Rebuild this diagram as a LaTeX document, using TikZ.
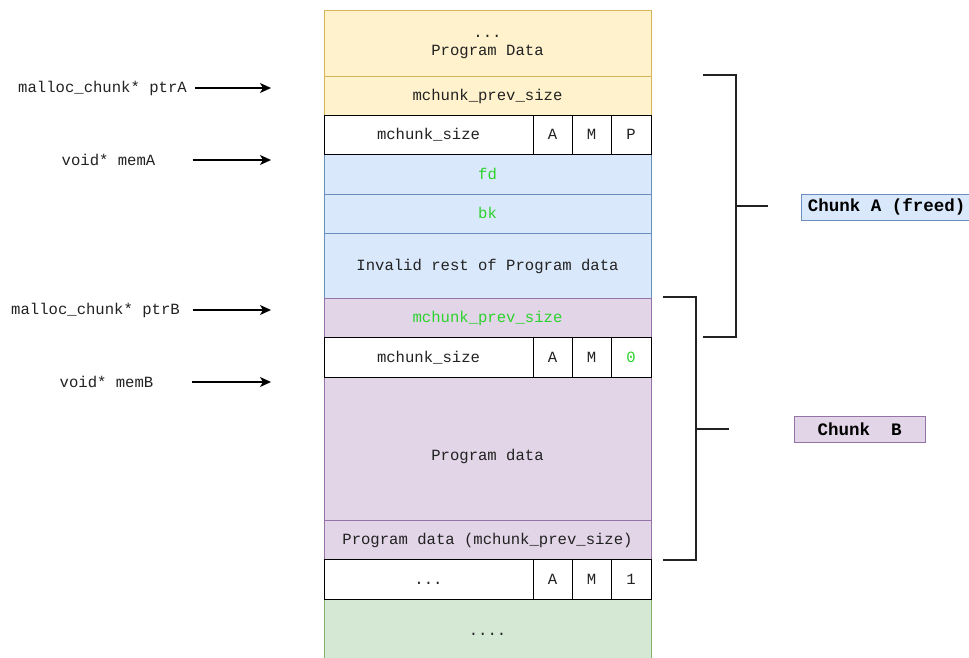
\documentclass[tikz,border=0pt]{standalone}
\usepackage{fontspec}
\setmonofont{Liberation Mono}
\usetikzlibrary{arrows.meta}
\definecolor{yelF}{HTML}{FFF2CC}
\definecolor{yelD}{HTML}{D6B656}
\definecolor{bluF}{HTML}{DAE8FC}
\definecolor{bluD}{HTML}{6C8EBF}
\definecolor{purF}{HTML}{E1D5E7}
\definecolor{purD}{HTML}{9673A6}
\definecolor{grnF}{HTML}{D5E8D4}
\definecolor{grnD}{HTML}{82B366}
\definecolor{txt}{HTML}{222222}
\definecolor{lime}{HTML}{2ED22E}
\tikzset{
  cell/.style={rectangle, draw, inner sep=0pt, text=txt, line width=0.9pt,
    text height=12pt, text depth=2pt,
    font=\ttfamily\fontsize{15.6}{18}\selectfont},
  yel/.style={cell, fill=yelF, draw=yelD},
  blu/.style={cell, fill=bluF, draw=bluD},
  pur/.style={cell, fill=purF, draw=purD},
  grn/.style={cell, fill=grnF, draw=grnD},
  wht/.style={cell, fill=white, draw=black},
  plain/.style={inner sep=0pt, text=txt, font=\ttfamily\fontsize{15.6}{18}\selectfont},
  ptrlabel/.style={inner sep=4pt, text=txt, font=\ttfamily\fontsize{15.6}{18}\selectfont},
  ptrarrow/.style={draw=black, line width=1.1pt, -{Stealth[length=11pt,width=10pt,inset=3pt]}},
  bracket/.style={draw=txt, line width=2pt},
  chunklabel/.style={rectangle, inner sep=0pt, minimum height=26pt, text=black, line width=0.9pt,
    font=\ttfamily\bfseries\fontsize{17.5}{20}\selectfont},
}
\begin{document}
\begin{tikzpicture}[x=1pt,y=-1pt]
\useasboundingbox (0,0) rectangle (969,658);
% column rows
\node[yel, minimum width=327pt, minimum height=66pt] (pd) at (487.5,43) {};
\node[plain, anchor=base] (pdDots) at (487.5,37.5) {...};
\node[plain, anchor=base] (pdText) at (487.5,55.5) {Program Data};
\node[yel, minimum width=327pt, minimum height=39pt] (prevA) at (487.5,95.5) {mchunk\_prev\_size};
\node[blu, minimum width=327pt, minimum height=40pt, text=lime] (fd) at (487.5,174) {fd};
\node[blu, minimum width=327pt, minimum height=39pt, text=lime] (bk) at (487.5,213.5) {bk};
\node[blu, minimum width=327pt, minimum height=65pt] (inv) at (487.5,265.5) {Invalid rest of Program data};
\node[pur, minimum width=327pt, minimum height=39pt, text=lime] (prevB) at (487.5,317.5) {mchunk\_prev\_size};
\node[pur, minimum width=327pt, minimum height=143pt, text height=25pt] (pdB) at (487.5,448.5) {Program data};
\node[pur, minimum width=327pt, minimum height=39pt] (pdprev) at (487.5,539.5) {Program data (mchunk\_prev\_size)};
\node[grn, minimum width=327pt, minimum height=62pt] (tail) at (487.5,630) {....};
% size rows
\node[wht, minimum width=209pt, minimum height=39pt] (sizeA) at (428.5,134.5) {mchunk\_size};
\node[wht, minimum width=39pt, minimum height=39pt] (aA) at (552.5,134.5) {A};
\node[wht, minimum width=39pt, minimum height=39pt] (mA) at (591.5,134.5) {M};
\node[wht, minimum width=40pt, minimum height=39pt] (pA) at (631,134.5) {P};
\node[wht, minimum width=209pt, minimum height=40pt] (sizeB) at (428.5,357) {mchunk\_size};
\node[wht, minimum width=39pt, minimum height=40pt] (aB) at (552.5,357) {A};
\node[wht, minimum width=39pt, minimum height=40pt] (mB) at (591.5,357) {M};
\node[wht, minimum width=40pt, minimum height=40pt, text=lime] (pB) at (631,357) {0};
\node[wht, minimum width=209pt, minimum height=40pt] (sizeC) at (428.5,579) {...};
\node[wht, minimum width=39pt, minimum height=40pt] (aC) at (552.5,579) {A};
\node[wht, minimum width=39pt, minimum height=40pt] (mC) at (591.5,579) {M};
\node[wht, minimum width=40pt, minimum height=40pt] (pC) at (631,579) {1};
% pointer labels
\node[ptrlabel] (ptrA) at (102.5,88) {malloc\_chunk* ptrA};
\node[ptrlabel] (memA) at (108.5,160) {void* memA};
\node[ptrlabel] (ptrB) at (95.5,310) {malloc\_chunk* ptrB};
\node[ptrlabel] (memB) at (106.5,382) {void* memB};
\coordinate (ptrAend) at (271,88);
\coordinate (memAend) at (271,160);
\coordinate (ptrBend) at (271,310);
\coordinate (memBend) at (271,382);
\draw[ptrarrow] (ptrA.east) ++(4pt,0) -- (ptrAend);
\draw[ptrarrow] (memA.east) ++(33pt,0) -- (memAend);
\draw[ptrarrow] (ptrB.east) ++(9pt,0) -- (ptrBend);
\draw[ptrarrow] (memB.east) ++(34pt,0) -- (memBend);
% brackets
\draw[bracket] (703,75) -- (736,75) -- (736,337) -- (703,337);
\draw[bracket] (736,206) -- (768,206);
\draw[bracket] (663,297) -- (696,297) -- (696,560) -- (663,560);
\draw[bracket] (696,429) -- (729,429);
% chunk labels
\node[chunklabel, fill=bluF, draw=bluD, anchor=west, inner xsep=6.5pt] (chunkA) at (801,207) {Chunk A (freed)};
\node[chunklabel, fill=purF, draw=purD, minimum width=131pt] (chunkB) at (859.5,429) {Chunk\ \ B};
\end{tikzpicture}
\end{document}
